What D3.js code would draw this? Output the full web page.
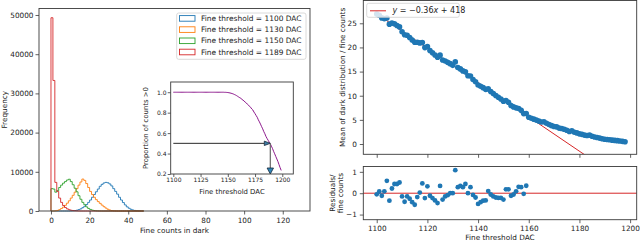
<!DOCTYPE html>
<html><head><meta charset="utf-8">
<script src="https://cdn.jsdelivr.net/npm/d3@7"></script>
<style>
body{margin:0;background:#fff}
svg{display:block}
text{font-family:"DejaVu Sans",sans-serif;fill:#222}
</style>
</head><body>
<svg id="c" width="640" height="241"></svg>
<script>
// ---------------- DATA ----------------
const seriesLabels = ["Fine threshold = 1100 DAC","Fine threshold = 1130 DAC","Fine threshold = 1150 DAC","Fine threshold = 1189 DAC"];
const seriesColors = ["#1f77b4","#ff7f0e","#2ca02c","#d62728"];
// counts per unit-wide bin, bins start at 0
const blueCounts = [0,0,0,0,0,0,0,0,0,0, 20,50,100,200,350,550,850,1200,1650,2200, 2800,3500,4200,4900,5600,6300,6800,7150,7300,7200, 6900,6400,5700,5000,4300,3500,2800,2150,1550,1050, 700,430,250,140,70,35,15,5];
const orangeCounts = [0,0,50,150,350,650,1000,1450,2000,2600, 3300,4000,4800,5700,6600,7400,8150,7800,7000,6000, 5000,4200,3500,2900,2400,1950,1500,1100,750,450, 250,110,50,20,0,0,0,0,0,0, 0,0,0,0,0,0,0,0];
const greenCounts = [5700,5600,4800,5200,6000,6600,7100,7500,7900,8100, 7500,6700,5800,4900,3900,3000,2200,1600,1050,650, 400,220,110,50,20,8,0,0,0,0, 0,0,0,0,0,0,0,0,0,0, 0,0,0,0,0,0,0,0];
const redCounts = [49300,33300,7300,5000,3300,2200,1400,900,550,330, 190,100,50,20,8,0,0,0,0,0, 0,0,0,0,0,0,0,0,0,0, 0,0,0,0,0,0,0,0,0,0, 0,0,0,0,0,0,0,0];
const histXTicks = [0,20,40,60,80,100,120];
const histYTicks = [0,10000,20000,30000,40000,50000];

// inset: proportion of counts > 0 vs fine threshold (1100..1199)
const insetThresholds = d3.range(1100, 1200);
const proportion = [
 1,1,1,1,1,1,1,1,1,1, 1,1,1,1,1,1,1,1,1,1, 1,1,1,1,1,1,1,1,1,1, 1,1,1,1,1,1,1,1,1,1, 1,1,1,1,1,1,1,
 0.999,0.999,0.998,0.997,0.995,0.993,0.99,0.987,0.983,0.978,0.973,0.967,0.96,
 0.953,0.946,0.94,0.93,0.922,0.914,0.902,0.895,0.882,0.874,
 0.86,0.852,0.836,0.826,0.806,0.79,0.772,0.755,0.73,0.71,
 0.688,0.664,0.642,0.615,0.594,0.568,0.548,0.53,0.512,0.495,
 0.472,0.45,0.422,0.398,0.372,0.347,0.322,0.292,0.262,0.235];
const insetXTicks = [1100,1125,1150,1175,1200];
const insetYTicks = [0.2,0.4,0.6,0.8,1.0];
const arrowThreshold = 1189, arrowLevel = 0.5, arrowStart = 1100, arrowBottom = 0.2;

// right: mean of dark distribution vs fine threshold
const meanThresholds = d3.range(1100, 1199);
const meanValues = [
 26.90,26.67,26.12,25.97,26.11,24.82,25.04,24.89,24.54,24.25,
 23.25,22.64,22.53,22.07,21.55,21.08,21.08,20.94,21.01,19.97,
 20.16,19.36,18.90,18.43,17.96,18.40,17.41,17.20,16.91,16.64,
 16.29,17.01,15.85,15.56,15.14,14.94,14.15,14.08,13.36,12.89,
 12.23,11.95,11.67,11.32,11.41,10.89,10.45,10.04,9.67,9.31,
 8.88,9.00,8.64,7.99,7.69,7.49,7.34,6.97,6.30,6.33,
 5.55,5.35,5.15,4.95,4.75,4.55,4.62,4.30,4.05,3.80,
 3.62,3.55,3.30,3.20,3.05,2.85,2.60,2.75,2.45,2.30,
 2.10,2.00,1.85,1.75,1.85,1.60,1.45,1.35,1.22,1.10,
 1.00,0.95,0.88,0.80,0.75,0.70,0.62,0.55,0.48];
const fitSlope = -0.3555, fitIntercept = 418;
const fitLabelSlope = "−0.36", fitLabelIntercept = "418";
const residThresholds = d3.range(1100, 1160);
const residuals = [
 -0.05,0.08,-0.12,0.09,0.58,-0.35,0.22,0.43,0.43,0.50,
 -0.15,-0.40,-0.15,-0.26,-0.42,-0.54,-0.18,0.03,0.46,-0.23,
 0.32,-0.12,-0.23,-0.34,-0.46,0.34,-0.30,-0.15,-0.09,0.00,
 0.00,1.08,0.28,0.34,0.28,0.43,0.00,0.28,-0.08,-0.20,
 -0.50,-0.42,-0.35,-0.34,0.10,-0.06,-0.15,-0.20,-0.22,-0.22,
 -0.30,0.18,0.18,-0.12,-0.06,0.09,0.30,0.28,-0.03,0.35];
const rightXTicks = [1100,1120,1140,1160,1180,1200];
const meanYTicks = [0,5,10,15,20,25];
const residYTicks = [-1,0,1];

// ---------------- DRAW ----------------
const svg = d3.select("#c");
const FS = 7.3, FRAME = "#3a3a3a";
const fmtInt = d3.format("d");
const fmtMinus = d => String(d).replace("-", "−");

function styleAxis(g, fs){
  g.select(".domain").remove();
  g.selectAll(".tick line").attr("stroke", FRAME).attr("stroke-width", 0.8);
  g.selectAll(".tick text").attr("font-size", fs).attr("fill", "#222")
   .attr("font-family", '"DejaVu Sans",sans-serif');
}
function frame(x0,y0,x1,y1){
  svg.append("rect").attr("x",x0).attr("y",y0).attr("width",x1-x0).attr("height",y1-y0)
    .attr("fill","none").attr("stroke",FRAME).attr("stroke-width",0.9);
}

// ----- Left histogram -----
const L = {x0:39, x1:310, y0:8.5, y1:211};
const hx = d3.scaleLinear().domain([-6.2, 134.1]).range([L.x0, L.x1]);
const hy = d3.scaleLinear().domain([0, 51658]).range([L.y1, L.y0]);
const countsList = [blueCounts, orangeCounts, greenCounts, redCounts];
const stepLine = d3.line().x(d=>hx(d[0])).y(d=>hy(d[1]));
countsList.forEach((counts,i)=>{
  const pts = [[0,0]];
  counts.forEach((c,k)=>{ pts.push([k,c]); pts.push([k+1,c]); });
  pts.push([counts.length,0]);
  svg.append("path").attr("d", stepLine(pts)).attr("fill","none")
    .attr("stroke", seriesColors[i]).attr("stroke-width",0.9).attr("stroke-linejoin","miter");
});
frame(L.x0,L.y0,L.x1,L.y1);
svg.append("g").attr("transform",`translate(0,${L.y1})`)
  .call(d3.axisBottom(hx).tickValues(histXTicks).tickFormat(fmtInt).tickSize(3.5).tickPadding(3.3))
  .call(g=>styleAxis(g,FS));
svg.append("g").attr("transform",`translate(${L.x0},0)`)
  .call(d3.axisLeft(hy).tickValues(histYTicks).tickFormat(fmtInt).tickSize(3.5).tickPadding(2))
  .call(g=>styleAxis(g,FS));
svg.append("text").attr("x",(L.x0+L.x1)/2).attr("y",232.5).attr("text-anchor","middle")
  .attr("font-size",FS).text("Fine counts in dark");
svg.append("text").attr("transform",`translate(6.5,${(L.y0+L.y1)/2}) rotate(-90)`)
  .attr("text-anchor","middle").attr("font-size",FS).text("Frequency");

// legend
const lg = svg.append("g");
lg.append("rect").attr("x",176.7).attr("y",13).attr("width",129.3).attr("height",46.3)
  .attr("rx",2).attr("fill","#fff").attr("fill-opacity",0.8).attr("stroke","#d0d0d0").attr("stroke-width",0.8);
seriesLabels.forEach((lab,i)=>{
  const cy = 18.4 + i*11.2;
  lg.append("rect").attr("x",179.5).attr("y",cy-2.8).attr("width",15.5).attr("height",5.6)
    .attr("fill","none").attr("stroke",seriesColors[i]).attr("stroke-width",0.9);
  lg.append("text").attr("x",201).attr("y",cy).attr("dy","0.36em").attr("font-size",7.45).text(lab);
});

// ----- Inset -----
const I = {x0:170.7, x1:293.3, y0:82, y1:174};
const ix = d3.scaleLinear().domain([1097.6, 1210.1]).range([I.x0, I.x1]);
const iy = d3.scaleLinear().domain([0.2, 1.1]).range([I.y1, I.y0]);
svg.append("rect").attr("x",I.x0).attr("y",I.y0).attr("width",I.x1-I.x0).attr("height",I.y1-I.y0).attr("fill","#fff");
svg.append("path").datum(insetThresholds.map((t,i)=>[t,proportion[i]]))
  .attr("d", d3.line().x(d=>ix(d[0])).y(d=>iy(d[1])))
  .attr("fill","none").attr("stroke","#800080").attr("stroke-width",0.9);
// horizontal arrow
const headL = 6, headW = 3.2;
const hxTip = ix(arrowThreshold), hyA = iy(arrowLevel);
svg.append("line").attr("x1",ix(arrowStart)).attr("y1",hyA).attr("x2",hxTip-headL).attr("y2",hyA)
  .attr("stroke","#111").attr("stroke-width",0.9);
svg.append("path").attr("d",`M${hxTip},${hyA} L${hxTip-headL},${hyA-2.2} L${hxTip-headL},${hyA+2.2} Z`)
  .attr("fill","#3f7ea6").attr("stroke","#14263a").attr("stroke-width",0.8);
// vertical arrow
const vyTip = iy(arrowBottom);
svg.append("line").attr("x1",hxTip).attr("y1",hyA).attr("x2",hxTip).attr("y2",vyTip-headL)
  .attr("stroke","#666").attr("stroke-width",1.2);
svg.append("path").attr("d",`M${hxTip},${vyTip} L${hxTip-headW},${vyTip-headL} L${hxTip+headW},${vyTip-headL} Z`)
  .attr("fill","#2f86b8").attr("stroke","#14263a").attr("stroke-width",0.8);
frame(I.x0,I.y0,I.x1,I.y1);
svg.append("g").attr("transform",`translate(0,${I.y1})`)
  .call(d3.axisBottom(ix).tickValues(insetXTicks).tickFormat(fmtInt).tickSize(3).tickPadding(1.2))
  .call(g=>styleAxis(g,6.0));
svg.append("g").attr("transform",`translate(${I.x0},0)`)
  .call(d3.axisLeft(iy).tickValues(insetYTicks).tickFormat(d3.format(".1f")).tickSize(3).tickPadding(1.2))
  .call(g=>styleAxis(g,6.0));
svg.append("text").attr("x",(I.x0+I.x1)/2).attr("y",194).attr("text-anchor","middle")
  .attr("font-size",6.9).text("Fine threshold DAC");
svg.append("text").attr("transform",`translate(147.5,${(I.y0+I.y1)/2}) rotate(-90)`)
  .attr("text-anchor","middle").attr("font-size",6.9).text("Proportion of counts >0");

// ----- Right main -----
const R = {x0:363.3, x1:636.7, y0:0.5, y1:154.3};
const rx = d3.scaleLinear().domain([1094.7, 1202.6]).range([R.x0, R.x1]);
const ry = d3.scaleLinear().domain([-2.13, 29.72]).range([R.y1, R.y0]);
svg.append("clipPath").attr("id","clipR").append("rect")
  .attr("x",R.x0).attr("y",R.y0).attr("width",R.x1-R.x0).attr("height",R.y1-R.y0);
const gR = svg.append("g").attr("clip-path","url(#clipR)");
const fitX = [meanThresholds[0], meanThresholds[meanThresholds.length-1]];
gR.append("path").datum(fitX).attr("d", d3.line().x(d=>rx(d)).y(d=>ry(fitSlope*d+fitIntercept)))
  .attr("stroke","#d62728").attr("stroke-width",1).attr("fill","none");
gR.selectAll("circle").data(meanThresholds).join("circle")
  .attr("cx",d=>rx(d)).attr("cy",(d,i)=>ry(meanValues[i])).attr("r",2.8).attr("fill","#1f77b4");
frame(R.x0,R.y0,R.x1,R.y1);
svg.append("g").attr("transform",`translate(0,${R.y1})`)
  .call(d3.axisBottom(rx).tickValues(rightXTicks).tickSize(3.5).tickFormat(""))
  .call(g=>styleAxis(g,FS));
svg.append("g").attr("transform",`translate(${R.x0},0)`)
  .call(d3.axisLeft(ry).tickValues(meanYTicks).tickFormat(fmtInt).tickSize(3.5).tickPadding(3))
  .call(g=>styleAxis(g,FS));
svg.append("text").attr("transform",`translate(344.5,${(R.y0+R.y1)/2}) rotate(-90)`)
  .attr("text-anchor","middle").attr("font-size",FS).text("Mean of dark distribution / fine counts");
// legend
const rl = svg.append("g");
rl.append("rect").attr("x",366.7).attr("y",3.3).attr("width",92.6).attr("height",14)
  .attr("rx",2).attr("fill","#fff").attr("fill-opacity",0.8).attr("stroke","#d0d0d0").attr("stroke-width",0.8);
rl.append("line").attr("x1",370).attr("x2",386).attr("y1",10.8).attr("y2",10.8)
  .attr("stroke","#d62728").attr("stroke-width",1);
const lt = rl.append("text").attr("x",392.5).attr("y",10.8).attr("dy","0.33em")
  .attr("font-family","'Liberation Serif',serif").attr("font-size",8).attr("fill","#222");
lt.append("tspan").attr("font-style","italic").text("y");
lt.append("tspan").text(" = " + fitLabelSlope);
lt.append("tspan").attr("font-style","italic").text("x");
lt.append("tspan").text(" + " + fitLabelIntercept);

// ----- Residuals -----
const S = {x0:363.3, x1:636.7, y0:166.5, y1:219.7};
const sy = d3.scaleLinear().domain([-1.24, 1.25]).range([S.y1, S.y0]);
svg.append("line").attr("x1",S.x0).attr("x2",S.x1).attr("y1",sy(0)).attr("y2",sy(0))
  .attr("stroke","#d62728").attr("stroke-width",1);
svg.append("g").selectAll("circle").data(residThresholds).join("circle")
  .attr("cx",d=>rx(d)).attr("cy",(d,i)=>sy(residuals[i])).attr("r",2.4).attr("fill","#1f77b4");
frame(S.x0,S.y0,S.x1,S.y1);
svg.append("g").attr("transform",`translate(0,${S.y1})`)
  .call(d3.axisBottom(rx).tickValues(rightXTicks).tickFormat(fmtInt).tickSize(3.5).tickPadding(2.2))
  .call(g=>styleAxis(g,FS));
svg.append("g").attr("transform",`translate(${S.x0},0)`)
  .call(d3.axisLeft(sy).tickValues(residYTicks).tickFormat(fmtMinus).tickSize(3.5).tickPadding(3))
  .call(g=>styleAxis(g,FS));
svg.append("text").attr("x",(S.x0+S.x1)/2).attr("y",240).attr("text-anchor","middle")
  .attr("font-size",FS).text("Fine threshold DAC");
const rlab = svg.append("text").attr("transform",`translate(336,${(S.y0+S.y1)/2}) rotate(-90)`)
  .attr("text-anchor","middle").attr("font-size",FS);
rlab.append("tspan").attr("x",0).attr("dy","-0.1em").text("Residuals/");
rlab.append("tspan").attr("x",0).attr("dy","1.05em").text("fine counts");
</script>
</body></html>
